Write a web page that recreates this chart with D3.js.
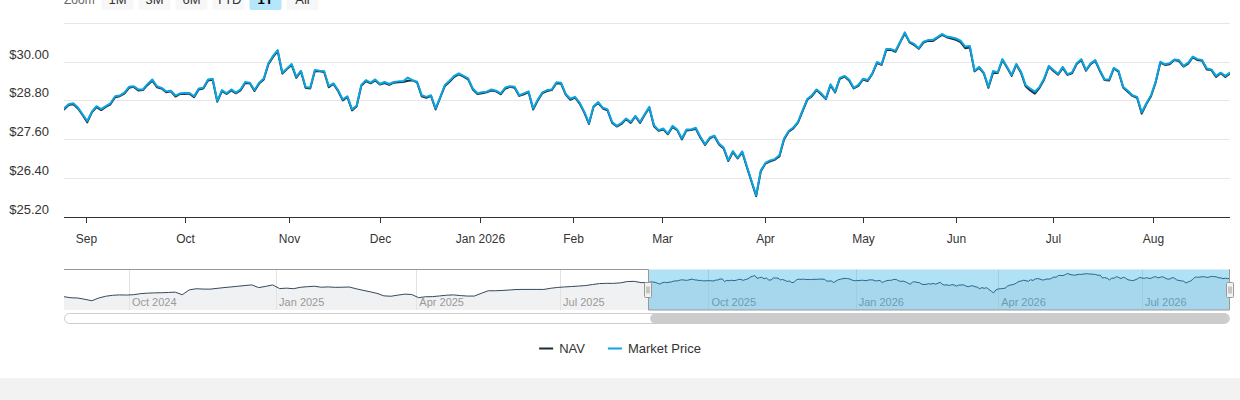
<!DOCTYPE html>
<html>
<head>
<meta charset="utf-8">
<script src="https://cdn.jsdelivr.net/npm/d3@7"></script>
<style>
  html, body { margin: 0; padding: 0; background: #f2f2f2; }
  #chart { width: 1240px; height: 378px; background: #fff; overflow: hidden; }
  svg { display: block; font-family: "Liberation Sans", Arial, Helvetica, sans-serif; }
</style>
</head>
<body>
<div id="chart"></div>
<script>
// Market price, one value per trading session, Aug 25 2025 - Aug 25 2026
const marketPrice = [
  28.55, 28.68, 28.71, 28.58, 28.37, 28.16, 28.45, 28.62, 28.53, 28.62,
  28.71, 28.93, 28.95, 29.04, 29.22, 29.24, 29.14, 29.14, 29.31, 29.45,
  29.24, 29.19, 29.08, 29.10, 28.95, 29.02, 29.03, 29.03, 28.93, 29.17,
  29.19, 29.45, 29.47, 28.78, 29.12, 29.02, 29.14, 29.04, 29.14, 29.37,
  29.35, 29.12, 29.35,
  29.48, 29.95, 30.18, 30.36, 29.66, 29.79, 29.93, 29.53, 29.72, 29.22,
  29.19, 29.74, 29.72, 29.71, 29.24, 29.33, 29.12, 28.83, 28.93, 28.52,
  28.64, 29.28, 29.43, 29.35, 29.45, 29.31, 29.37, 29.31, 29.37, 29.39,
  29.39, 29.51, 29.43, 29.38, 28.96, 28.91, 28.96, 28.55, 28.91, 29.28,
  29.41, 29.56,
  29.64, 29.56, 29.48, 29.17, 29.02, 29.05, 29.07, 29.14, 29.10, 29.02,
  29.20, 29.24, 29.22, 28.96, 29.02, 29.08, 28.55, 28.83, 29.05, 29.12,
  29.14, 29.36, 29.35, 29.00, 28.85, 28.91, 28.73, 28.45, 28.10, 28.62,
  28.75, 28.57, 28.52, 28.13, 28.01, 28.10, 28.24, 28.13, 28.32, 28.13,
  28.37, 28.60,
  28.03, 27.88, 27.93, 27.77, 28.01, 27.90, 27.62, 27.90, 27.90, 27.95,
  27.67, 27.44, 27.65, 27.71, 27.46, 27.34, 26.94, 27.23, 27.02, 27.22,
  26.76, 26.30, 25.86, 26.63, 26.86, 26.94, 26.98, 27.10, 27.62, 27.85,
  27.96, 28.13, 28.50, 28.84, 28.96, 29.14, 29.02, 28.86, 29.30, 29.07,
  29.50, 29.56,
  29.45, 29.19, 29.28, 29.47, 29.43, 29.64, 29.99, 29.92, 30.39, 30.39,
  30.34, 30.62, 30.91, 30.62, 30.55, 30.42, 30.62, 30.67, 30.67, 30.76,
  30.86, 30.78, 30.76, 30.72, 30.65, 30.47, 30.49, 29.72, 29.84, 29.66,
  29.22, 29.71, 29.67, 30.08, 29.84, 29.59, 29.93, 29.69, 29.28, 29.17,
  29.07, 29.22,
  29.48, 29.87, 29.74, 29.62, 29.84, 29.61, 29.67, 29.95, 30.08, 29.74,
  29.95, 30.05, 29.74, 29.45, 29.45, 29.81, 29.72, 29.22, 29.10, 28.96,
  28.91, 28.43, 28.71, 28.96, 29.38, 30.00, 29.92, 29.95, 30.07, 30.05,
  29.87, 29.97, 30.16, 30.08, 30.05, 29.79, 29.76, 29.56, 29.66, 29.56,
  29.66
];

// NAV, same sessions
const navValues = [
  28.52, 28.66, 28.68, 28.55, 28.35, 28.12, 28.43, 28.59, 28.50, 28.60,
  28.68, 28.90, 28.93, 29.01, 29.19, 29.22, 29.11, 29.12, 29.28, 29.41,
  29.21, 29.17, 29.05, 29.08, 28.92, 29.00, 29.00, 29.01, 28.90, 29.14,
  29.17, 29.42, 29.44, 28.76, 29.09, 29.00, 29.11, 29.02, 29.11, 29.34,
  29.33, 29.09, 29.32,
  29.45, 29.92, 30.15, 30.33, 29.63, 29.77, 29.90, 29.50, 29.70, 29.19,
  29.17, 29.71, 29.70, 29.68, 29.21, 29.31, 29.09, 28.80, 28.91, 28.49,
  28.62, 29.25, 29.40, 29.33, 29.42, 29.29, 29.34, 29.28, 29.35, 29.36,
  29.37, 29.41, 29.42, 29.36, 28.93, 28.88, 28.94, 28.52, 28.89, 29.25,
  29.38, 29.53,
  29.61, 29.54, 29.45, 29.14, 29.00, 29.02, 29.05, 29.11, 29.08, 28.99,
  29.17, 29.22, 29.19, 28.94, 28.99, 29.06, 28.52, 28.80, 29.03, 29.09,
  29.12, 29.33, 29.32, 28.98, 28.82, 28.89, 28.70, 28.42, 28.07, 28.60,
  28.72, 28.55, 28.49, 28.10, 27.99, 28.07, 28.22, 28.10, 28.30, 28.10,
  28.35, 28.57,
  28.00, 27.86, 27.90, 27.75, 27.98, 27.88, 27.59, 27.87, 27.88, 27.92,
  27.64, 27.42, 27.62, 27.69, 27.43, 27.31, 26.92, 27.20, 27.00, 27.19,
  26.73, 26.28, 25.83, 26.60, 26.84, 26.91, 26.96, 27.06, 27.59, 27.83,
  27.93, 28.11, 28.47, 28.82, 28.93, 29.12, 28.99, 28.84, 29.27, 29.05,
  29.47, 29.54,
  29.42, 29.17, 29.25, 29.45, 29.40, 29.62, 29.96, 29.90, 30.36, 30.37,
  30.31, 30.60, 30.88, 30.60, 30.52, 30.40, 30.59, 30.65, 30.64, 30.74,
  30.83, 30.76, 30.72, 30.68, 30.61, 30.42, 30.44, 29.70, 29.81, 29.64,
  29.19, 29.66, 29.65, 30.05, 29.82, 29.56, 29.91, 29.66, 29.24, 29.11,
  29.01, 29.19,
  29.45, 29.85, 29.71, 29.60, 29.81, 29.59, 29.64, 29.93, 30.05, 29.72,
  29.92, 30.03, 29.71, 29.43, 29.42, 29.79, 29.69, 29.20, 29.07, 28.94,
  28.88, 28.39, 28.69, 28.93, 29.36, 29.97, 29.90, 29.92, 30.05, 30.02,
  29.85, 29.94, 30.14, 30.05, 30.03, 29.76, 29.74, 29.53, 29.64, 29.53,
  29.63
];

// NAV for the year before (navigator only), every third trading session from Aug 21 2024
const earlierNav = [
  24.82, 24.56, 24.48, 24.15, 23.78, 24.50, 24.95, 25.20, 25.30, 25.26,
  25.35, 25.62, 25.75, 25.83, 25.86, 25.93, 26.02, 25.34, 26.60, 26.90,
  26.82, 26.80, 27.00, 27.20, 27.37, 27.55, 27.74, 27.90, 27.20, 27.52,
  27.90, 26.95, 27.06, 26.92, 27.28, 27.44, 27.56, 27.30, 27.38, 27.27,
  27.30, 27.36, 26.90, 26.50, 26.12, 25.70, 25.05, 24.95, 25.24, 25.50,
  25.40, 24.58, 24.82, 24.85, 25.03, 25.22, 25.30, 25.12, 25.00, 25.00,
  25.70, 26.38, 26.38, 26.45, 26.57, 26.70, 26.73, 26.73, 26.73, 26.73,
  27.03, 27.25, 27.37, 27.48, 27.60, 27.74, 28.00, 28.25, 28.31, 28.31,
  28.43, 28.78, 28.83, 28.50
];
const earlierStep = 3;

const seriesNames = ["NAV", "Market Price"];
const seriesColors = ["#1e2b3a", "#0ca4e0"];
const zoomButtons = ["1M", "3M", "6M", "YTD", "1Y", "All"];
const selectedButton = "1Y";
const yTicks = [25.2, 26.4, 27.6, 28.8, 30.0, 31.2];

// exchange closures in the period
const marketHolidays = [
  "2024-09-02", "2024-11-28", "2024-12-25", "2025-01-01", "2025-01-09", "2025-01-20",
  "2025-02-17", "2025-04-18", "2025-05-26", "2025-06-19", "2025-07-04", "2025-09-01",
  "2025-11-27", "2025-12-25", "2026-01-01", "2026-01-19", "2026-02-16", "2026-04-03",
  "2026-05-25", "2026-06-19", "2026-07-03"
];
const historyStart = "2024-08-21";
const windowStart = "2025-08-25";

////////////////////////////////////////////////////////////
/////////////////// trading calendar ///////////////////////
////////////////////////////////////////////////////////////

const parse = d3.utcParse("%Y-%m-%d");
const fmt = d3.utcFormat("%Y-%m-%d");
const closed = new Set(marketHolidays);

const allDates = [];
let splitIndex = -1;
for (let d = parse(historyStart); ; d = d3.utcDay.offset(d, 1)) {
  const wd = d.getUTCDay();
  if (wd === 0 || wd === 6 || closed.has(fmt(d))) continue;
  if (splitIndex < 0 && d >= parse(windowStart)) splitIndex = allDates.length;
  allDates.push(d);
  if (splitIndex >= 0 && allDates.length === splitIndex + marketPrice.length) break;
}
const mainDates = allDates.slice(splitIndex);

// ordinal position of an arbitrary time between two sessions
function ordinalPos(dates, t) {
  for (let i = 0; i < dates.length - 1; i++) {
    if (t >= dates[i] && t < dates[i + 1]) return i + (t - dates[i]) / (dates[i + 1] - dates[i]);
  }
  return t < dates[0] ? -1 : dates.length;
}

////////////////////////////////////////////////////////////
////////////////////// layout //////////////////////////////
////////////////////////////////////////////////////////////

const width = 1240, height = 378;
const plotLeft = 64, plotRight = 1230, plotTop = 23, plotBottom = 216.5;
const navTop = 269.5, navBottom = 310;

const svg = d3.select("#chart").append("svg")
  .attr("width", width)
  .attr("height", height);

const x = d3.scaleLinear().domain([0, mainDates.length - 1]).range([plotLeft, plotRight]);
const y = d3.scaleLinear().domain([yTicks[0], yTicks[yTicks.length - 1]]).range([plotBottom, plotTop]);

// range selector (partly above the view)
const rs = svg.append("g");
rs.append("text").attr("x", 64).attr("y", 4).attr("font-size", 12).attr("fill", "#666").text("Zoom");
zoomButtons.forEach((b, i) => {
  const bx = 101.5 + i * 37;
  const sel = b === selectedButton;
  rs.append("rect").attr("x", bx).attr("y", -12).attr("width", 32).attr("height", 22).attr("rx", 2)
    .attr("fill", sel ? "#b5e6fa" : "#f7f7f7");
  rs.append("text").attr("x", bx + 16).attr("y", 4).attr("text-anchor", "middle")
    .attr("font-size", 13).attr("font-weight", sel ? "bold" : "normal")
    .attr("fill", sel ? "#000" : "#333").text(b);
});

// grid + y labels
svg.append("g").selectAll("line").data(yTicks.slice(1)).join("line")
  .attr("x1", plotLeft).attr("x2", plotRight)
  .attr("y1", d => Math.round(y(d)) + 0.5).attr("y2", d => Math.round(y(d)) + 0.5)
  .attr("stroke", "#e6e6e6");

svg.append("g").selectAll("text").data(yTicks.slice(0, -1)).join("text")
  .attr("x", 49).attr("y", d => y(d) - 3)
  .attr("text-anchor", "end").attr("font-size", 13).attr("fill", "#333")
  .text(d => "$" + d.toFixed(2));

// x axis
svg.append("line").attr("x1", plotLeft).attr("x2", plotRight)
  .attr("y1", Math.round(plotBottom) + 0.5).attr("y2", Math.round(plotBottom) + 0.5)
  .attr("stroke", "#333");

const monthTicks = d3.utcMonths(mainDates[0], mainDates[mainDates.length - 1])
  .map(m => ({ m, p: ordinalPos(mainDates, m) }))
  .filter(d => d.p >= 0 && d.p <= mainDates.length - 1);

const xt = svg.append("g").selectAll("g").data(monthTicks).join("g")
  .attr("transform", d => `translate(${Math.round(x(d.p)) + 0.5},0)`);
xt.append("line").attr("y1", Math.round(plotBottom)).attr("y2", Math.round(plotBottom) + 6).attr("stroke", "#333");
xt.append("text").attr("y", 243).attr("text-anchor", "middle").attr("font-size", 12).attr("fill", "#333")
  .text(d => d3.utcFormat(d.m.getUTCMonth() === 0 ? "%b %Y" : "%b")(d.m));

// series
svg.append("clipPath").attr("id", "plotClip").append("rect")
  .attr("x", plotLeft).attr("y", plotTop - 5).attr("width", plotRight - plotLeft).attr("height", plotBottom - plotTop + 5);

const line = d3.line().x((d, i) => x(i)).y(d => y(d));
[navValues, marketPrice].forEach((s, k) => {
  svg.append("path")
    .attr("clip-path", "url(#plotClip)")
    .attr("d", line(s))
    .attr("fill", "none")
    .attr("stroke", seriesColors[k])
    .attr("stroke-width", 2)
    .attr("stroke-linejoin", "round")
    .attr("stroke-linecap", "round");
});

////////////////////////////////////////////////////////////
////////////////////// navigator ///////////////////////////
////////////////////////////////////////////////////////////

const navPoints = earlierNav.map((v, k) => ({ i: k * earlierStep, v }))
  .concat(navValues.map((v, j) => ({ i: splitIndex + j, v })));

const nx = d3.scaleLinear().domain([0, allDates.length - 1]).range([plotLeft, plotRight]);
const [nMin, nMax] = d3.extent(navPoints, d => d.v);
const ny = d3.scaleLinear()
  .domain([nMin - 0.34 * (nMax - nMin), nMax + 0.146 * (nMax - nMin)])
  .range([navBottom, navTop]);

const nav = svg.append("g");
nav.append("rect").attr("x", plotLeft).attr("y", navTop).attr("width", plotRight - plotLeft)
  .attr("height", navBottom - navTop).attr("fill", "#fff");

const quarterTicks = d3.utcMonths(allDates[0], allDates[allDates.length - 1], 1)
  .filter(m => m.getUTCMonth() % 3 === 0)
  .map(m => ({ m, p: ordinalPos(allDates, m) }));

nav.append("path")
  .attr("d", d3.area().x(d => nx(d.i)).y0(navBottom).y1(d => ny(d.v))(navPoints))
  .attr("fill", "#f0f1f3");

nav.selectAll("line.grid").data(quarterTicks).join("line")
  .attr("x1", d => Math.round(nx(d.p)) + 0.5).attr("x2", d => Math.round(nx(d.p)) + 0.5)
  .attr("y1", navTop).attr("y2", navBottom).attr("stroke", "#e3e3e3");

nav.append("path")
  .attr("d", d3.line().x(d => nx(d.i)).y(d => ny(d.v))(navPoints))
  .attr("fill", "none").attr("stroke", "#34495e").attr("stroke-width", 1);

nav.selectAll("text").data(quarterTicks).join("text")
  .attr("x", d => nx(d.p) + 3).attr("y", 306)
  .attr("font-size", 11).attr("fill", "#999")
  .text(d => d3.utcFormat("%b %Y")(d.m));

// selected window
const selL = nx(splitIndex), selR = nx(allDates.length - 1);
nav.append("rect").attr("x", selL).attr("y", navTop).attr("width", selR - selL)
  .attr("height", navBottom - navTop).attr("fill", "rgba(14,165,224,0.33)");

nav.append("path")
  .attr("d", `M${plotLeft},${navTop}L${Math.round(selL) + 0.5},${navTop}L${Math.round(selL) + 0.5},${navBottom}` +
    `L${selR - 0.5},${navBottom}L${selR - 0.5},${navTop}L${plotRight},${navTop}`)
  .attr("fill", "none").attr("stroke", "#999");

[selL, selR].forEach(hx => {
  const hg = nav.append("g").attr("transform", `translate(${Math.round(hx) - 3.5},282.5)`);
  hg.append("rect").attr("width", 7).attr("height", 15).attr("rx", 1)
    .attr("fill", "#f2f2f2").attr("stroke", "#999");
  hg.append("path").attr("d", "M2.5,4V11M4.5,4V11").attr("stroke", "#999");
});

// scrollbar
svg.append("rect").attr("x", plotLeft + 0.5).attr("y", 313.5).attr("width", plotRight - plotLeft - 1)
  .attr("height", 10).attr("rx", 5).attr("fill", "#fff").attr("stroke", "#ccc");
svg.append("rect").attr("x", selL + 2).attr("y", 313.5).attr("width", selR - selL - 3)
  .attr("height", 10).attr("rx", 5).attr("fill", "#ccc");

////////////////////////////////////////////////////////////
/////////////////////// legend /////////////////////////////
////////////////////////////////////////////////////////////

const legend = svg.append("g").attr("transform", "translate(0,348)");
let lx = 0;
const items = seriesNames.map((name, k) => {
  const g = legend.append("g");
  g.append("line").attr("x1", 0).attr("x2", 14).attr("y1", 0.5).attr("y2", 0.5)
    .attr("stroke", seriesColors[k]).attr("stroke-width", 2);
  const t = g.append("text").attr("x", 20).attr("y", 5).attr("font-size", 13).attr("fill", "#333").text(name);
  const w = 20 + t.node().getComputedTextLength();
  g.attr("transform", `translate(${lx},0)`);
  lx += w + 23;
  return g;
});
const legendWidth = lx - 23;
legend.attr("transform", `translate(${620 - legendWidth / 2},348)`);
</script>
</body>
</html>
